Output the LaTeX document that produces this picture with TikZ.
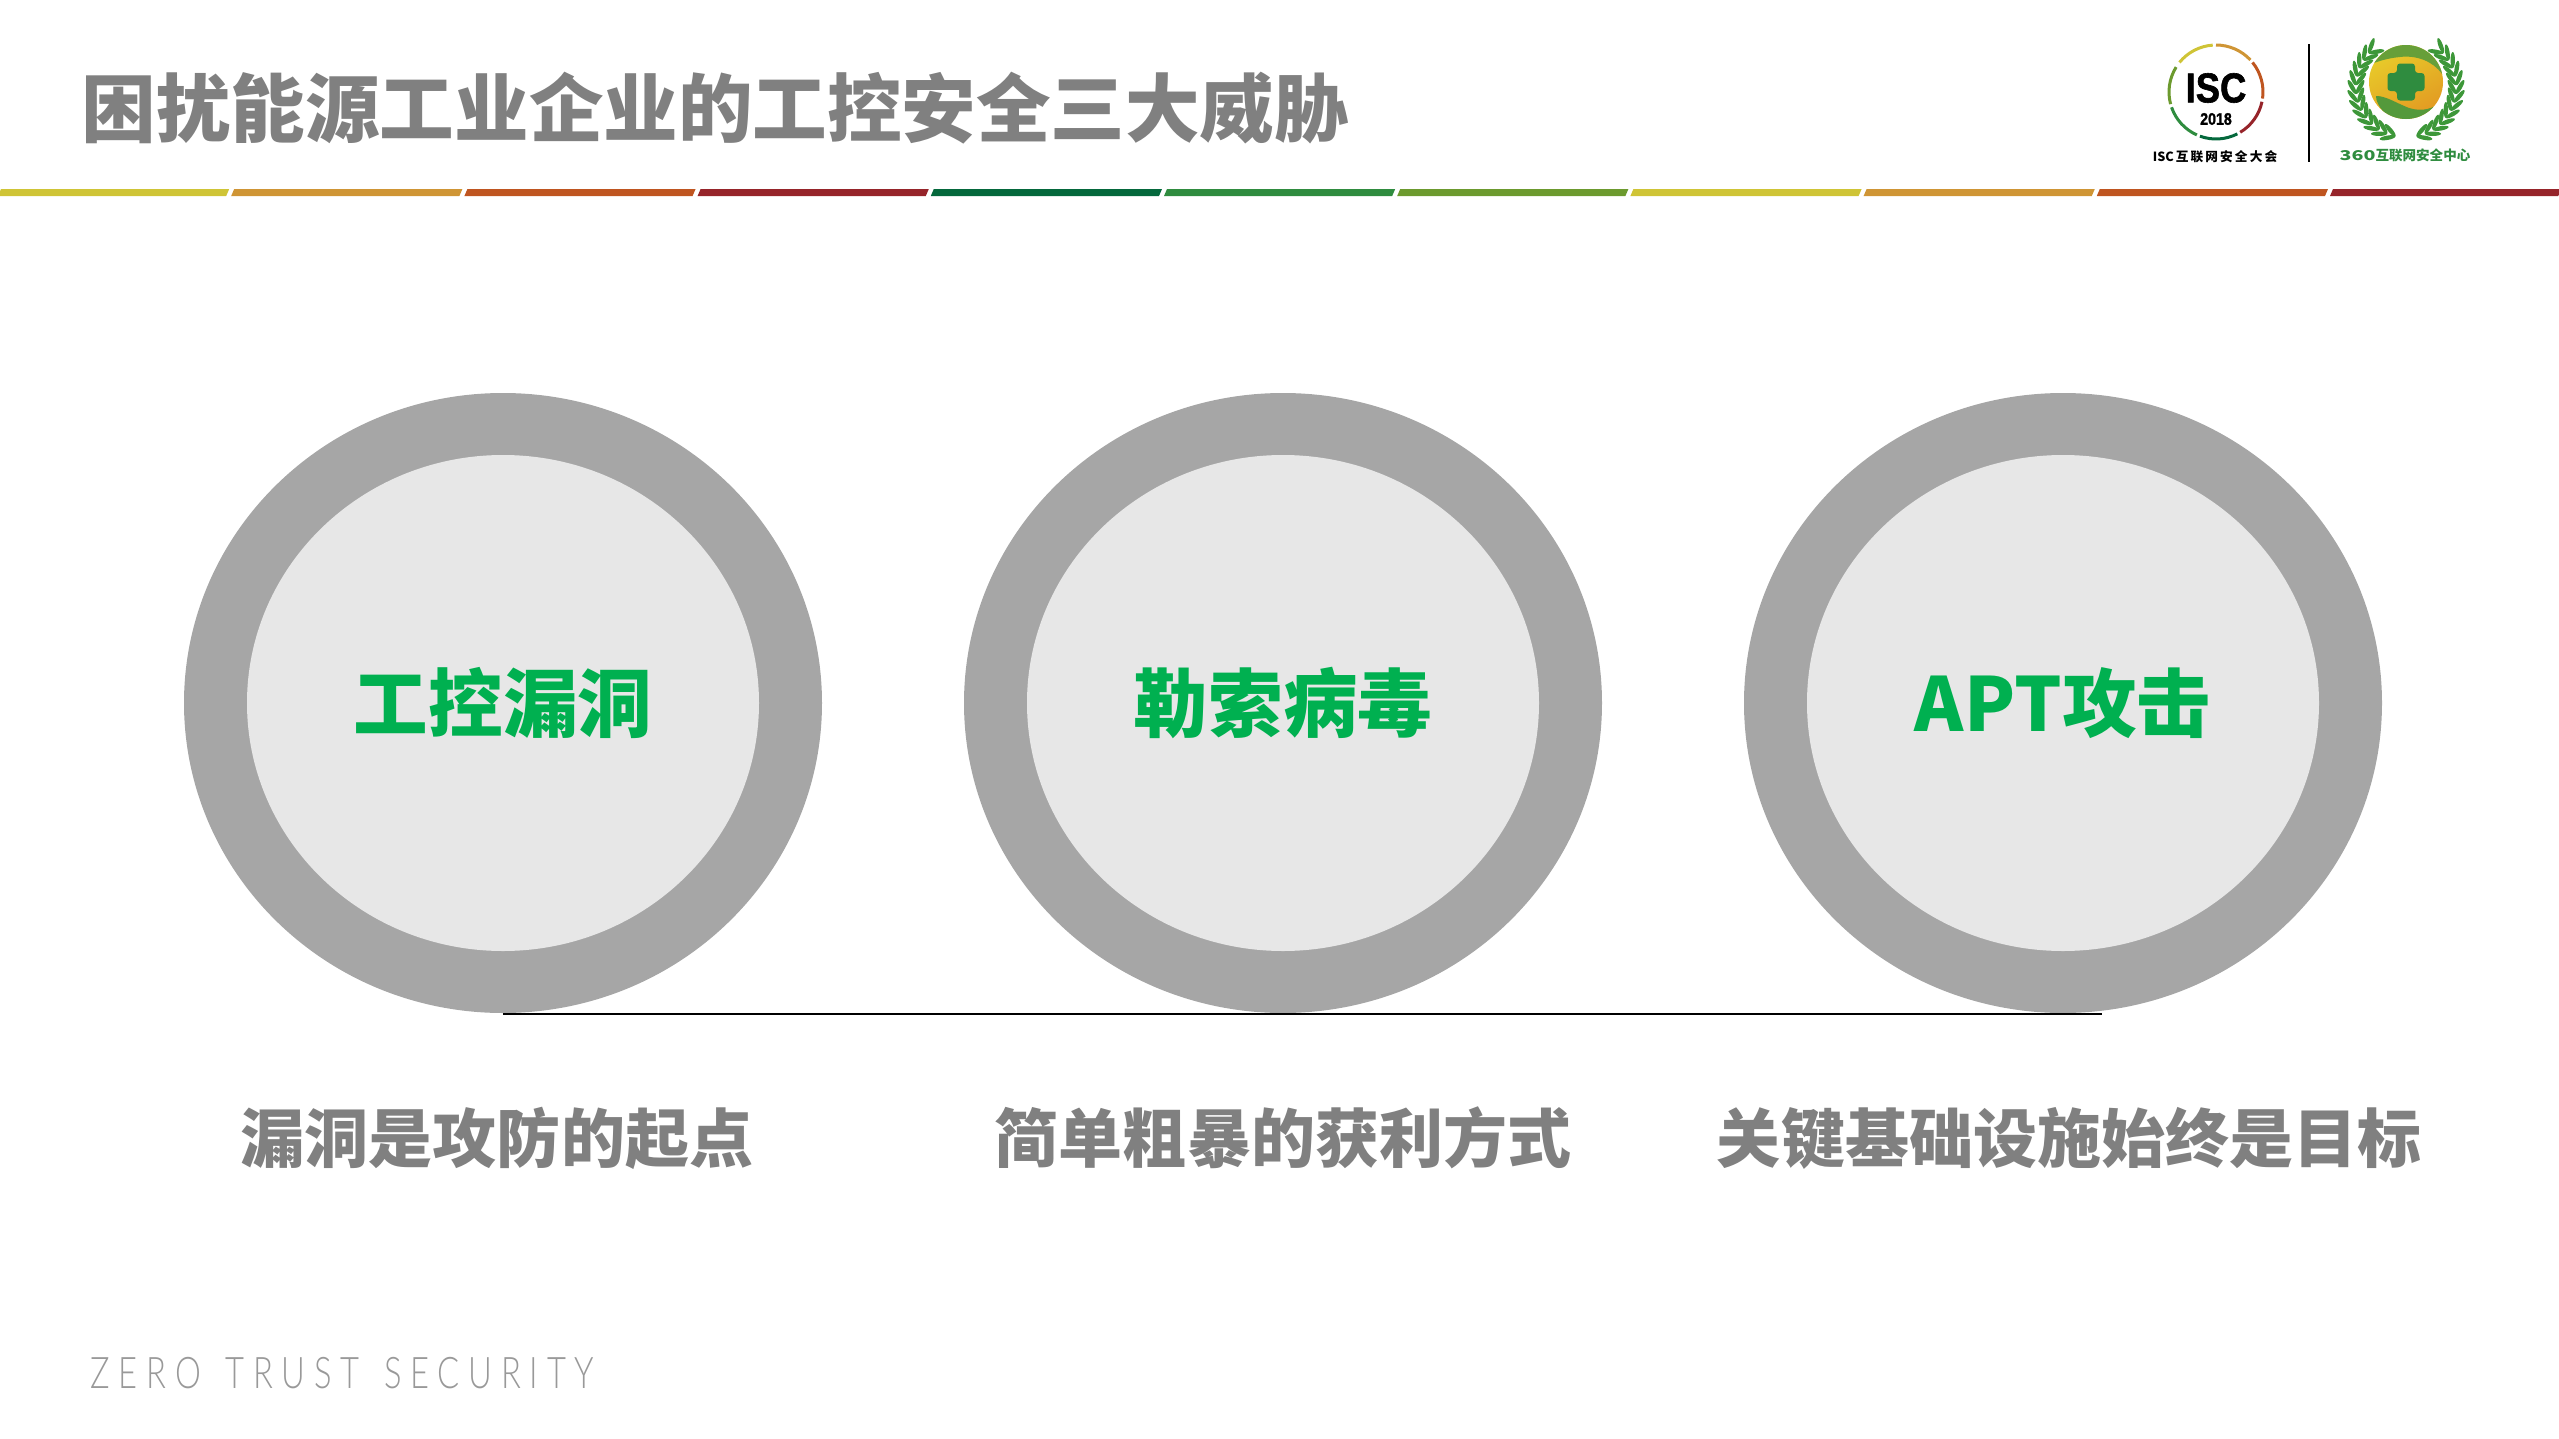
\documentclass[tikz,border=0pt]{standalone}
\usepackage{fontspec}
\usepackage{tikz}
\usetikzlibrary{shapes.geometric}
\newfontfamily\cjk{Noto Sans CJK SC}
\newfontfamily\arial[FakeBold=1.5]{Liberation Sans Bold}
\newfontfamily\thin[LetterSpace=27]{Lato Light}
\definecolor{barYellow}{HTML}{CFC436}
\definecolor{barOrange}{HTML}{CF9535}
\definecolor{barRust}{HTML}{BF5520}
\definecolor{barRed}{HTML}{96242A}
\definecolor{barDark}{HTML}{04683C}
\definecolor{barGreen}{HTML}{2F8C3F}
\definecolor{barOlive}{HTML}{6C9A2E}
\definecolor{threat}{HTML}{00B050}
\definecolor{ballHigh}{HTML}{E8CC2A}
\definecolor{ballLow}{HTML}{E29A22}
\tikzset{
	ring/.style={ellipse,fill=black!35,minimum width=638\pxu,minimum height=620\pxu,inner sep=0pt},
	disc/.style={ellipse,fill=black!9.5,minimum width=512\pxu,minimum height=496\pxu,inner sep=0pt,text=threat,font=\cjk\bfseries\fontsize{21.2}{25}\selectfont},
	caption/.style={text=black!50,font=\cjk\bfseries\fontsize{18.2}{22}\selectfont,inner sep=0pt},
	leaf/.style={fill=barGreen!90!lime}
}
\newcommand{\pxu}{*0.01cm}
\begin{document}
\begin{tikzpicture}[x=0.01cm,y=-0.01cm]
	\useasboundingbox (0,0) rectangle (2559,1439);

	% heading
	\node [anchor=west,inner sep=0pt,text=black!50,font=\cjk\bfseries\fontsize{21.2}{25}\selectfont] (heading) at (81,108) {困扰能源工业企业的工控安全三大威胁};
	\foreach \i/\col in {0/barYellow,1/barOrange,2/barRust,3/barRed,4/barDark,5/barGreen,6/barOlive,7/barYellow,8/barOrange,9/barRust,10/barRed}
		\fill [\col] ({\i*233.2+1},189) -- ({\i*233.2+229.2},189) -- ({\i*233.2+226.2},196) -- ({\i*233.2-2},196) -- cycle;

	% isc logo
	\begin{scope}[shift={(2216,92)},y=0.01cm]
		\foreach \a/\col in {143/barYellow,92/barOrange,41/barRust,-10/barRed,-61/barDark,-112/barGreen,-163/barOlive}
			\draw [\col,line width=3\pxu] (\a-2:47) arc (\a-2:\a-49:47);
	\end{scope}
	\node [inner sep=0pt,xscale=0.87,font=\arial\fontsize{11.9}{12}\selectfont] (isc) at (2216,88) {ISC};
	\node [inner sep=0pt,xscale=0.85,font=\arial\fontsize{4.75}{5}\selectfont] (year) at (2216,119) {2018};
	\node [inner sep=0pt,font=\cjk\bfseries\fontsize{3.6}{4}\selectfont] (iscname) at (2215,157) {ISC\,互\,联\,网\,安\,全\,大\,会};
	\coordinate (top) at (2309,44);
	\coordinate (bottom) at (2309,162);
	\draw [line width=2\pxu] (top) -- (bottom);

	% 360 logo
	\begin{scope}[shift={(2406,82)},y=0.01cm]
		\foreach \a in {130,140,...,250} {
			\fill [leaf,shift={(0,-5)}] (\a:54) ellipse [x radius=8,y radius=2.2,rotate=\a-60];
			\fill [leaf,shift={(0,-5)}] (\a:46) ellipse [x radius=8,y radius=2.2,rotate=\a+60];
			\fill [leaf,shift={(0,-5)}] (180-\a:54) ellipse [x radius=8,y radius=2.2,rotate=180-\a+60];
			\fill [leaf,shift={(0,-5)}] (180-\a:46) ellipse [x radius=8,y radius=2.2,rotate=180-\a-60];
		}
		\shade [top color=ballHigh,bottom color=ballLow,shading angle=30] (0,0) circle (37);
		\begin{scope}
			\clip (0,0) circle (37);
			\fill [barGreen!70!ballHigh] (-32,19) .. controls (-20,36) and (-5,40) .. (12,38) .. controls (28,32) and (36,20) .. (36,8) .. controls (27,21) and (10,27) .. (-6,25) .. controls (-16,24) and (-24,22) .. (-32,19) -- cycle;
			\fill [barGreen!80!ballHigh] (-30,-14) .. controls (-20,-14) and (-12,-20) .. (3,-26) .. controls (16,-30) and (28,-27) .. (35,-19) .. controls (25,-42) and (-5,-44) .. (-22,-30) .. controls (-28,-24) and (-30,-18) .. (-30,-14) -- cycle;
		\end{scope}
		\fill [barGreen,rounded corners=3\pxu] (-9,18.5) -- (9,18.5) -- (9,9) -- (18.5,9) -- (18.5,-9) -- (9,-9) -- (9,-18.5) -- (-9,-18.5) -- (-9,-9) -- (-18.5,-9) -- (-18.5,9) -- (-9,9) -- cycle;
	\end{scope}
	\node [inner sep=0pt,text=barGreen,font=\cjk\bfseries\fontsize{3.85}{5}\selectfont] (centername) at (2405,155) {\scalebox{1.45}[1]{360}互联网安全中心};

	% three threats
	\node [ring] (ringa) at (503,703) {};
	\node [ring] (ringb) at (1283,703) {};
	\node [ring] (ringc) at (2063,703) {};
	\node [disc] (vuln) at (ringa) {工控漏洞};
	\node [disc] (virus) at (ringb) {勒索病毒};
	\node [disc] (apt) at (ringc) {APT攻击};

	\coordinate (lineend) at (2102,1012);
	\draw [line width=2\pxu,yshift=1\pxu] (ringa.south) -- (ringa.south -| lineend);

	\node [caption] (capa) at (497,1138) {漏洞是攻防的起点};
	\node [caption] (capb) at (1283,1138) {简单粗暴的获利方式};
	\node [caption] (capc) at (2069,1138) {关键基础设施始终是目标};

	\node [anchor=west,inner sep=0pt,xscale=0.75,text=black!40,font=\thin\fontsize{12.4}{14}\selectfont] (slogan) at (90,1373) {ZERO\hspace{2.5pt} TRUST\hspace{2.5pt} SECURITY};
\end{tikzpicture}
\end{document}
